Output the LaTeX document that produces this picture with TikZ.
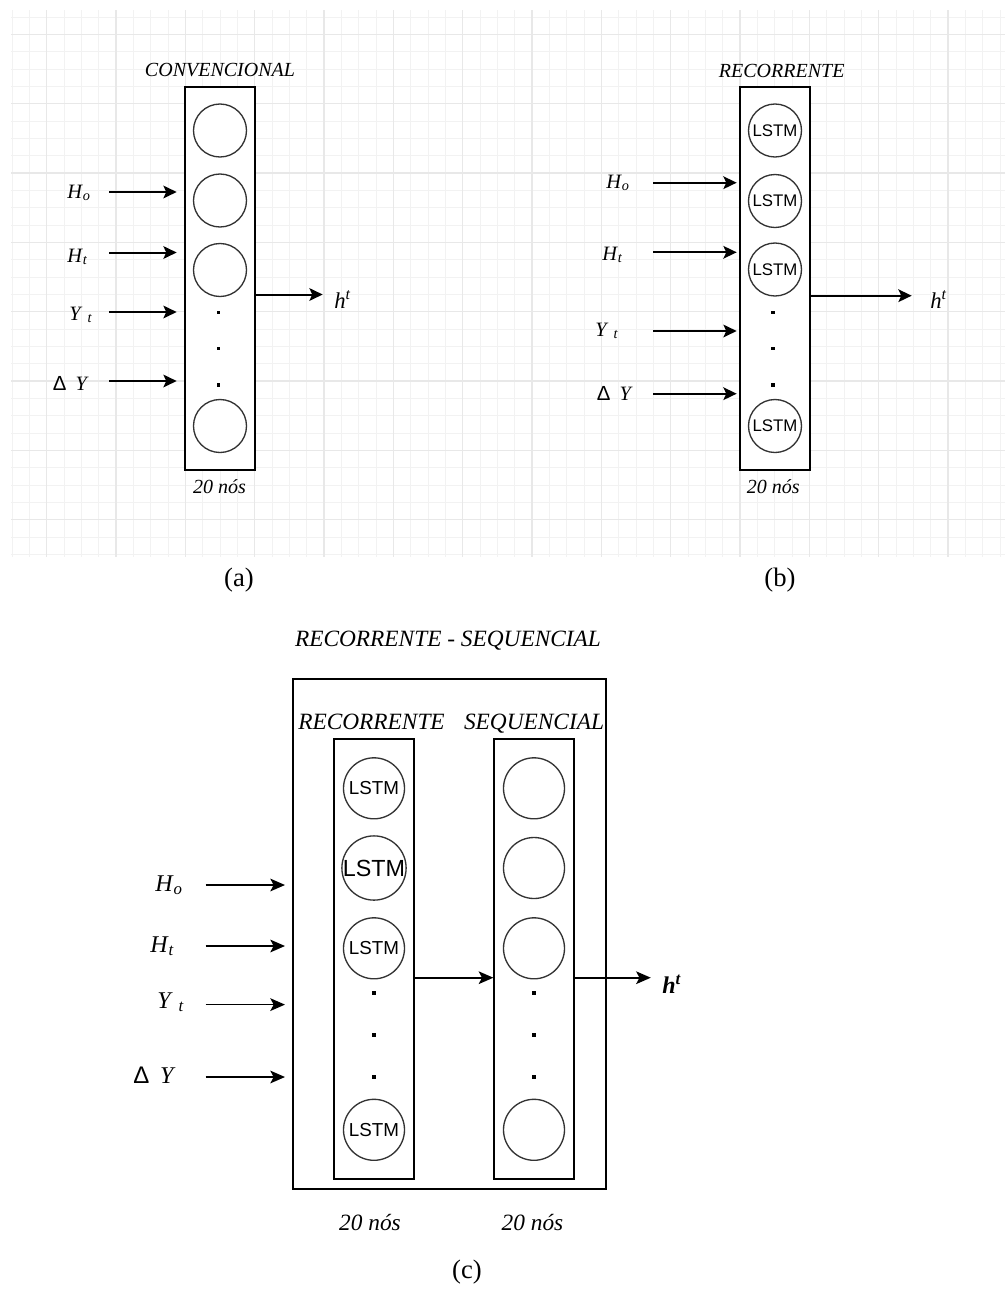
\documentclass[tikz,border=0pt]{standalone}
\usepackage{fontspec}
\setmainfont{Liberation Serif}
\newfontfamily\lsfont{Liberation Sans}
\usetikzlibrary{arrows.meta}
\newcommand\mySubH[1]{\textit{H}\textsubscript{\textit{#1}}}
\newcommand\myYt{\textit{Y}\hspace{0.25em}\textsubscript{\textit{t}}}
\newcommand\myDY{{\lsfont Δ}\hspace{0.45em}\textit{Y}}
\newcommand\myht{\textit{h}\textsuperscript{\textit{t}}}
\tikzset{
  gridminor/.style={draw=black!5, line width=0.75pt},
  gridmajor/.style={draw=black!9, line width=0.9pt},
  layerbox/.style={rectangle, draw=black, line width=1.5pt, fill=white, inner sep=0pt},
  neuron/.style={circle, draw=black!80, line width=1pt, fill=white, inner sep=0pt, minimum size=#1},
  dotsq/.style={rectangle, fill=black, inner sep=0pt, minimum size=#1},
  inarrow/.style={-{Stealth[length=10pt,width=9.5pt,inset=2.2pt]}, line width=1.5pt},
  inarrowc/.style={-{Stealth[length=11pt,width=9.5pt,inset=2.5pt]}, line width=1.3pt},
  lbltop/.style={inner sep=0pt, anchor=base west, font=\fontsize{15.3pt}{18pt}\selectfont},
  lblc/.style={inner sep=0pt, anchor=base west, font=\fontsize{18pt}{21pt}\selectfont},
  ttltop/.style={inner sep=0pt, anchor=base, font=\fontsize{15pt}{17pt}\selectfont\itshape},
  ttlc/.style={inner sep=0pt, anchor=base, font=\fontsize{17.5pt}{21pt}\selectfont\itshape},
  caption/.style={inner sep=0pt, anchor=base, font=\fontsize{20pt}{23pt}\selectfont},
  lstmb/.style={font=\lsfont\fontsize{12.6pt}{14pt}\selectfont},
  lstmc/.style={font=\lsfont\fontsize{14.1pt}{16pt}\selectfont},
  lstmcbig/.style={font=\lsfont\fontsize{17.5pt}{19pt}\selectfont},
}
\begin{document}
\begin{tikzpicture}[x=0.75pt,y=-0.75pt]
\fill[white] (0,0) rectangle (1005,1310);
\useasboundingbox (0,0) rectangle (1005,1310);
% ---------- grid ----------
\foreach \i in {0,...,57} \draw[gridminor] ({12+17.3333*\i},10) -- ({12+17.3333*\i},557);
\foreach \j in {0,...,31} \draw[gridminor] (11,{17+17.3333*\j}) -- (1005,{17+17.3333*\j});
\foreach \i in {0,...,13} \draw[gridmajor] ({46.67+69.333*\i},10) -- ({46.67+69.333*\i},557);
\foreach \j in {0,...,7} \draw[gridmajor] (11,{34.33+69.333*\j}) -- (1005,{34.33+69.333*\j});

% ---------- (a) CONVENCIONAL ----------
\node[ttltop] (aTitle) at (220,76.7) {CONVENCIONAL};
\node[layerbox, minimum width=52.05pt, minimum height=287.25pt] (aBox) at (220,278.5) {};
\node[neuron=39.75pt] (a1) at (220,130.5) {};
\node[neuron=39.75pt] (a2) at (220,200.5) {};
\node[neuron=39.75pt] (a3) at (220,270) {};
\node[neuron=39.75pt] (a4) at (220,426) {};
\node[dotsq=2.7pt] (ad1) at (218.5,312.5) {};
\node[dotsq=2.7pt] (ad2) at (218.5,348.3) {};
\node[dotsq=2.7pt] (ad3) at (218.5,384.7) {};
\node[ttltop] (aN) at (219.5,493) {20 nós};
\node[lbltop] (aHo) at (67,198) {\mySubH{o}};
\node[lbltop] (aHt) at (67,262) {\mySubH{t}};
\node[lbltop] (aYt) at (69,320) {\myYt};
\node[lbltop] (aDY) at (52.5,390) {\myDY};
\node[lbltop, font=\fontsize{17pt}{20pt}\selectfont] (aht) at (334,308) {\myht};
\coordinate (aS1) at (109,192);   \coordinate (aE1) at (176.7,192);
\coordinate (aS2) at (109,252.5); \coordinate (aE2) at (176.7,252.5);
\coordinate (aS3) at (109,312);   \coordinate (aE3) at (176.7,312);
\coordinate (aS4) at (109,381);   \coordinate (aE4) at (176.7,381);
\coordinate (aO) at (322.7,294.5);
\draw[inarrow] (aS1) -- (aE1);
\draw[inarrow] (aS2) -- (aE2);
\draw[inarrow] (aS3) -- (aE3);
\draw[inarrow] (aS4) -- (aE4);
\draw[inarrow] (aBox.east |- aO) -- (aO);
\node[caption] (capA) at (239,586) {(a)};

% ---------- (b) RECORRENTE ----------
\node[ttltop] (bTitle) at (781.7,77) {RECORRENTE};
\node[layerbox, minimum width=52.5pt, minimum height=287.25pt] (bBox) at (775,278.5) {};
\node[neuron=39.75pt, lstmb] (b1) at (775,130.5) {LSTM};
\node[neuron=39.75pt, lstmb] (b2) at (775,201) {LSTM};
\node[neuron=39.75pt, lstmb] (b3) at (775,269.5) {LSTM};
\node[neuron=39.75pt, lstmb] (b4) at (775,426) {LSTM};
\node[dotsq=2.7pt] (bd1) at (773,312.5) {};
\node[dotsq=2.7pt] (bd2) at (773,348.3) {};
\node[dotsq=2.7pt] (bd3) at (773,384.7) {};
\node[ttltop] (bN) at (773.3,493) {20 nós};
\node[lbltop] (bHo) at (606,188) {\mySubH{o}};
\node[lbltop] (bHt) at (602,260) {\mySubH{t}};
\node[lbltop] (bYt) at (595,336) {\myYt};
\node[lbltop] (bDY) at (596.5,400) {\myDY};
\node[lbltop, font=\fontsize{17pt}{20pt}\selectfont] (bht) at (930,308) {\myht};
\coordinate (bS1) at (653.3,182.7); \coordinate (bE1) at (736.7,182.7);
\coordinate (bS2) at (653.3,252.3); \coordinate (bE2) at (736.7,252.3);
\coordinate (bS3) at (653.3,331);   \coordinate (bE3) at (736.7,331);
\coordinate (bS4) at (653.3,393.7); \coordinate (bE4) at (736.7,393.7);
\coordinate (bO) at (911.7,295.7);
\draw[inarrow] (bS1) -- (bE1);
\draw[inarrow] (bS2) -- (bE2);
\draw[inarrow] (bS3) -- (bE3);
\draw[inarrow] (bS4) -- (bE4);
\draw[inarrow] (bBox.east |- bO) -- (bO);
\node[caption] (capB) at (780,586) {(b)};

% ---------- (c) RECORRENTE - SEQUENCIAL ----------
\node[ttlc] (cTitle) at (448,646) {RECORRENTE - SEQUENCIAL};
\node[layerbox, line width=1.4pt, minimum width=235pt, minimum height=382.5pt] (cOut) at (449.3,934.3) {};
\node[ttlc] (cLt) at (371.5,729) {RECORRENTE};
\node[ttlc] (cRt) at (534,729) {SEQUENCIAL};
\node[layerbox, line width=1.4pt, minimum width=60pt, minimum height=330pt] (cL) at (374.3,959.3) {};
\node[layerbox, line width=1.4pt, minimum width=60pt, minimum height=330pt] (cR) at (534.3,959.3) {};
\node[neuron=45.75pt, lstmc] (cl1) at (374,788.3) {LSTM};
\node[neuron=45.75pt, lstmcbig] (cl2) at (374,868) {LSTM};
\node[neuron=45.75pt, lstmc] (cl3) at (374,948.3) {LSTM};
\node[neuron=45.75pt, lstmc] (cl4) at (374,1129.8) {LSTM};
\node[neuron=45.75pt] (cr1) at (534,788.3) {};
\node[neuron=45.75pt] (cr2) at (534,868) {};
\node[neuron=45.75pt] (cr3) at (534,948.3) {};
\node[neuron=45.75pt] (cr4) at (534,1129.8) {};
\node[dotsq=3.4pt] (cld1) at (374,993) {};
\node[dotsq=3.4pt] (cld2) at (374,1035) {};
\node[dotsq=3.4pt] (cld3) at (374,1077) {};
\node[dotsq=3.4pt] (crd1) at (534,993) {};
\node[dotsq=3.4pt] (crd2) at (534,1035) {};
\node[dotsq=3.4pt] (crd3) at (534,1077) {};
\node[ttlc] (cLn) at (370,1230) {20 nós};
\node[ttlc] (cRn) at (532.5,1230) {20 nós};
\node[lblc] (cHo) at (155,891) {\mySubH{o}};
\node[lblc] (cHt) at (150,952) {\mySubH{t}};
\node[lblc] (cYt) at (157,1008) {\myYt};
\node[lblc] (cDY) at (133,1083) {\myDY};
\node[lblc, font=\fontsize{18pt}{21pt}\selectfont\bfseries] (cht) at (662,993) {\myht};
\coordinate (cS1) at (205.5,885);   \coordinate (cE1) at (285,885);
\coordinate (cS2) at (205.5,946);   \coordinate (cE2) at (285,946);
\coordinate (cS3) at (205.5,1004.6);\coordinate (cE3) at (285,1004.6);
\coordinate (cS4) at (205.5,1077);  \coordinate (cE4) at (285,1077);
\coordinate (cM) at (450,977.7);
\coordinate (cO) at (650.8,977.7);
\draw[inarrowc] (cS1) -- (cE1);
\draw[inarrowc] (cS2) -- (cE2);
\draw[inarrowc] (cS3) -- (cE3);
\draw[inarrowc] (cS4) -- (cE4);
\draw[inarrowc] (cL.east |- cM) -- (cR.west |- cM);
\draw[inarrowc] (cR.east |- cO) -- (cO);
\node[caption] (capC) at (467,1278) {(c)};
\end{tikzpicture}
\end{document}
